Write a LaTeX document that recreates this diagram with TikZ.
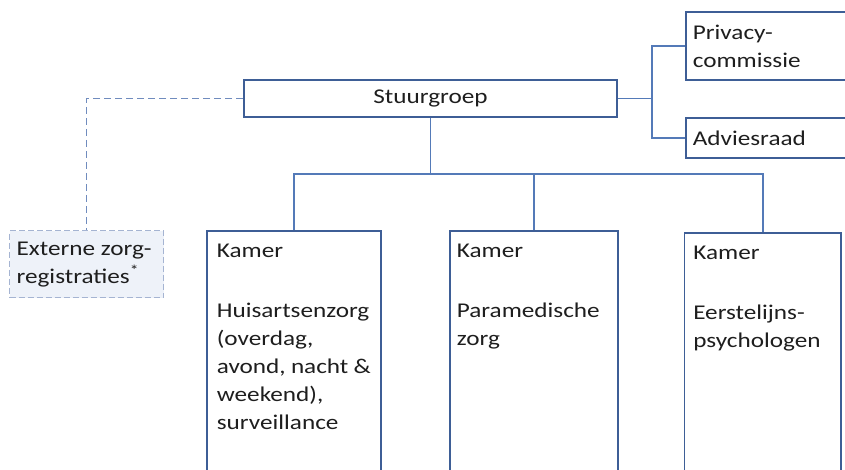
\documentclass[tikz,border=0pt]{standalone}
\usepackage{fontspec}
\setmainfont{Carlito}[FakeStretch=1.2]
\definecolor{boxc}{RGB}{62,94,150}
\definecolor{connc}{RGB}{84,122,184}
\definecolor{dashc}{RGB}{112,140,190}
\definecolor{extc}{RGB}{165,180,210}
\definecolor{extfill}{RGB}{238,242,249}
\definecolor{txtc}{RGB}{30,30,30}
\tikzset{
  box/.style={draw=boxc, line width=1.7pt, inner xsep=8pt, inner ysep=13pt, anchor=north west, text=txtc,
    font=\fontsize{21}{28}\selectfont},
  conn/.style={draw=connc, line width=1.8pt},
  dconn/.style={draw=dashc, line width=1.6pt, dash pattern=on 7pt off 4pt},
}
\newcommand{\boxtext}[3]{\parbox[c][#2][t]{#1}{\raggedright #3}}
\begin{document}
\begin{tikzpicture}[x=1pt,y=-1pt]
\useasboundingbox (0,0) rectangle (845,470);
\clip (0,0) rectangle (845,470);
% Stuurgroep
\node[draw=boxc, line width=1.7pt, minimum width=373pt, minimum height=37pt, inner sep=0, text=txtc,
  font=\fontsize{21}{28}\selectfont] (s) at (430.5,98.5) {Stuurgroep};
% right boxes
\node[box, inner xsep=7pt] (p) at (685,11) {\boxtext{190pt}{42pt}{Privacy-\\commissie}};
\node[box, inner xsep=7pt] (a) at (685,117) {\boxtext{190pt}{14pt}{Adviesraad}};
% Kamers
\node[box, inner xsep=10pt] (k1) at (206,230) {\boxtext{154pt}{260pt}{Kamer\\[32pt]Huisartsenzorg\\(overdag,\\avond, nacht \&\\weekend),\\surveillance}};
\node[box, inner xsep=7pt] (k2) at (449,230) {\boxtext{154pt}{260pt}{Kamer\\[32pt]Paramedische\\zorg}};
\node[box, inner xsep=9pt] (k3) at (683.5,232) {\boxtext{138.5pt}{260pt}{Kamer\\[32pt]Eerstelijns-\\psychologen}};
% Externe
\node[box, draw=extc, dash pattern=on 6pt off 3pt, line width=1.2pt, fill=extfill, inner xsep=7pt, inner ysep=11pt]
  (e) at (9,230) {\boxtext{140pt}{45pt}{Externe zorg-\\registraties\textsuperscript{*}}};
% connectors
\coordinate (j1) at (652,98.5);
\draw[conn] (s.east) -- (j1);
\draw[conn] (p.west) -| (j1) |- (a.west);
\coordinate (j2) at (430.5,174);
\draw[conn] (s.south) -- (j2);
\draw[conn] (k1.north) |- (j2) -| (k3.north);
\draw[conn] (j2 -| k2.north) -- (k2.north);
\draw[dconn] (s.west) -| (e.north);
\end{tikzpicture}
\end{document}
